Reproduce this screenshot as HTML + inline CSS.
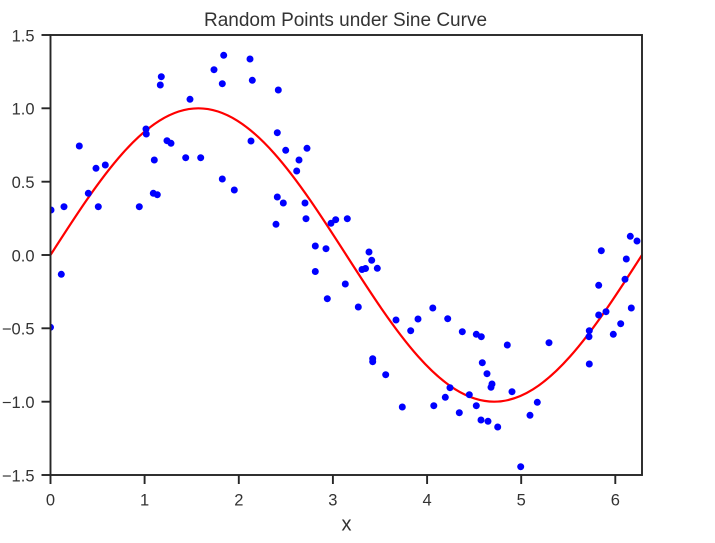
<!DOCTYPE html>
<html>
<head>
<meta charset="utf-8">
<style>
html,body{margin:0;padding:0;background:#fff;}
svg{display:block;}
text{font-family:"Liberation Sans",Arial,sans-serif;fill:#333;}
</style>
</head>
<body>
<svg width="715" height="543" viewBox="0 0 715 543" xmlns="http://www.w3.org/2000/svg">
<defs><clipPath id="ax"><rect x="50.5" y="35" width="591.5" height="440"/></clipPath></defs>
<rect x="0" y="0" width="715" height="543" fill="#fff"/>
<text x="345.5" y="26" font-size="19" text-anchor="middle">Random Points under Sine Curve</text>
<g clip-path="url(#ax)">
<path d="M50.5,255 C98.73,179.86 144.86,108.33 198.37,108.33 C251.89,108.33 298.02,179.86 346.25,255 C394.48,330.14 440.61,401.67 494.12,401.67 C547.64,401.67 593.77,330.14 642,255" fill="none" stroke="#ff0000" stroke-width="2.2"/>
<g fill="#0000ff">
<circle cx="51" cy="210" r="3.5"/><circle cx="64" cy="206.7" r="3.5"/><circle cx="79.3" cy="146" r="3.5"/><circle cx="96" cy="168.3" r="3.5"/><circle cx="105.3" cy="165" r="3.5"/>
<circle cx="88.3" cy="193.3" r="3.5"/><circle cx="98.3" cy="206.7" r="3.5"/><circle cx="139.3" cy="206.7" r="3.5"/><circle cx="146" cy="129" r="3.5"/><circle cx="146.3" cy="134" r="3.5"/>
<circle cx="154.3" cy="160" r="3.5"/><circle cx="153.3" cy="193.3" r="3.5"/><circle cx="157.3" cy="194.7" r="3.5"/><circle cx="161.3" cy="76.7" r="3.5"/><circle cx="160.3" cy="85" r="3.5"/>
<circle cx="167" cy="140.7" r="3.5"/><circle cx="171" cy="143.3" r="3.5"/><circle cx="185.7" cy="157.7" r="3.5"/><circle cx="190" cy="99.3" r="3.5"/><circle cx="200.7" cy="157.7" r="3.5"/>
<circle cx="214" cy="69.7" r="3.5"/><circle cx="223.7" cy="55.3" r="3.5"/><circle cx="222.3" cy="83.7" r="3.5"/><circle cx="222.3" cy="179" r="3.5"/><circle cx="234.3" cy="190" r="3.5"/>
<circle cx="250" cy="59" r="3.5"/><circle cx="252.3" cy="80.3" r="3.5"/><circle cx="278.3" cy="90" r="3.5"/><circle cx="277.3" cy="132.7" r="3.5"/><circle cx="251" cy="141" r="3.5"/>
<circle cx="285.7" cy="150.3" r="3.5"/><circle cx="307" cy="148.3" r="3.5"/><circle cx="299" cy="160" r="3.5"/><circle cx="296.7" cy="171" r="3.5"/><circle cx="277.3" cy="197" r="3.5"/>
<circle cx="283.3" cy="203" r="3.5"/><circle cx="305" cy="203" r="3.5"/><circle cx="306" cy="218.7" r="3.5"/><circle cx="276" cy="224.3" r="3.5"/><circle cx="331" cy="223.3" r="3.5"/>
<circle cx="335.7" cy="219.7" r="3.5"/><circle cx="347.3" cy="218.7" r="3.5"/><circle cx="315.3" cy="246" r="3.5"/><circle cx="326" cy="248.7" r="3.5"/><circle cx="369" cy="252" r="3.5"/>
<circle cx="371.7" cy="260.3" r="3.5"/><circle cx="362" cy="269.5" r="3.5"/><circle cx="365.5" cy="268.5" r="3.5"/><circle cx="377.3" cy="268.3" r="3.5"/><circle cx="315.3" cy="271.5" r="3.5"/>
<circle cx="327.3" cy="298.7" r="3.5"/><circle cx="345.3" cy="284" r="3.5"/><circle cx="358.3" cy="307" r="3.5"/><circle cx="396" cy="320" r="3.5"/><circle cx="410.7" cy="330.7" r="3.5"/>
<circle cx="418" cy="319" r="3.5"/><circle cx="432.8" cy="308" r="3.5"/><circle cx="372.7" cy="358.7" r="3.5"/><circle cx="372.7" cy="361.7" r="3.5"/><circle cx="385.7" cy="374.7" r="3.5"/>
<circle cx="402.3" cy="407" r="3.5"/><circle cx="433.8" cy="405.7" r="3.5"/><circle cx="447.7" cy="318.7" r="3.5"/><circle cx="462.3" cy="331.7" r="3.5"/><circle cx="476.3" cy="334.3" r="3.5"/>
<circle cx="481.3" cy="336.7" r="3.5"/><circle cx="507.3" cy="345" r="3.5"/><circle cx="549" cy="342.7" r="3.5"/><circle cx="482.3" cy="362.7" r="3.5"/><circle cx="487" cy="373.7" r="3.5"/>
<circle cx="492" cy="384" r="3.5"/><circle cx="491" cy="387.3" r="3.5"/><circle cx="512" cy="391.7" r="3.5"/><circle cx="450" cy="387.7" r="3.5"/><circle cx="445.3" cy="397.3" r="3.5"/>
<circle cx="469.3" cy="394.7" r="3.5"/><circle cx="476.3" cy="405.7" r="3.5"/><circle cx="459.3" cy="412.7" r="3.5"/><circle cx="481" cy="420" r="3.5"/><circle cx="488" cy="421.3" r="3.5"/>
<circle cx="497.7" cy="427" r="3.5"/><circle cx="537.3" cy="402.3" r="3.5"/><circle cx="530" cy="415.3" r="3.5"/><circle cx="520.7" cy="466.7" r="3.5"/><circle cx="589.3" cy="364" r="3.5"/>
<circle cx="589" cy="336.7" r="3.5"/><circle cx="589.3" cy="330.7" r="3.5"/><circle cx="598.7" cy="315" r="3.5"/><circle cx="606" cy="311.7" r="3.5"/><circle cx="598.7" cy="285.3" r="3.5"/>
<circle cx="601.3" cy="250.7" r="3.5"/><circle cx="613.3" cy="334.3" r="3.5"/><circle cx="620.7" cy="323.7" r="3.5"/><circle cx="631.3" cy="308" r="3.5"/><circle cx="625" cy="279.3" r="3.5"/>
<circle cx="626.3" cy="259" r="3.5"/><circle cx="630.3" cy="236.3" r="3.5"/><circle cx="637" cy="241" r="3.5"/><circle cx="61.3" cy="274.3" r="3.5"/><circle cx="50.5" cy="327.3" r="3.5"/>
</g>
</g>
<rect x="50.5" y="35" width="591.5" height="440" fill="none" stroke="#262626" stroke-width="1.9"/>
<g stroke="#262626" stroke-width="1.9">
<line x1="41.5" y1="35" x2="50.5" y2="35"/><line x1="41.5" y1="108.3" x2="50.5" y2="108.3"/><line x1="41.5" y1="181.7" x2="50.5" y2="181.7"/><line x1="41.5" y1="255" x2="50.5" y2="255"/>
<line x1="41.5" y1="328.3" x2="50.5" y2="328.3"/><line x1="41.5" y1="401.7" x2="50.5" y2="401.7"/><line x1="41.5" y1="475" x2="50.5" y2="475"/>
<line x1="50.5" y1="475" x2="50.5" y2="484"/><line x1="144.6" y1="475" x2="144.6" y2="484"/><line x1="238.8" y1="475" x2="238.8" y2="484"/><line x1="332.9" y1="475" x2="332.9" y2="484"/>
<line x1="427.1" y1="475" x2="427.1" y2="484"/><line x1="521.2" y1="475" x2="521.2" y2="484"/><line x1="615.3" y1="475" x2="615.3" y2="484"/>
</g>
<g font-size="16.5" text-anchor="end">
<text x="34.5" y="41.3">1.5</text><text x="34.5" y="114.6">1.0</text><text x="34.5" y="188">0.5</text><text x="34.5" y="261.3">0.0</text>
<text x="34.5" y="334.6">−0.5</text><text x="34.5" y="408">−1.0</text><text x="34.5" y="481.3">−1.5</text>
</g>
<g font-size="16.5" text-anchor="middle">
<text x="50.5" y="505.5">0</text><text x="144.6" y="505.5">1</text><text x="238.8" y="505.5">2</text><text x="332.9" y="505.5">3</text>
<text x="427.1" y="505.5">4</text><text x="521.2" y="505.5">5</text><text x="615.3" y="505.5">6</text>
</g>
<text x="346.5" y="530.5" font-size="20" text-anchor="middle">x</text>
</svg>
</body>
</html>
